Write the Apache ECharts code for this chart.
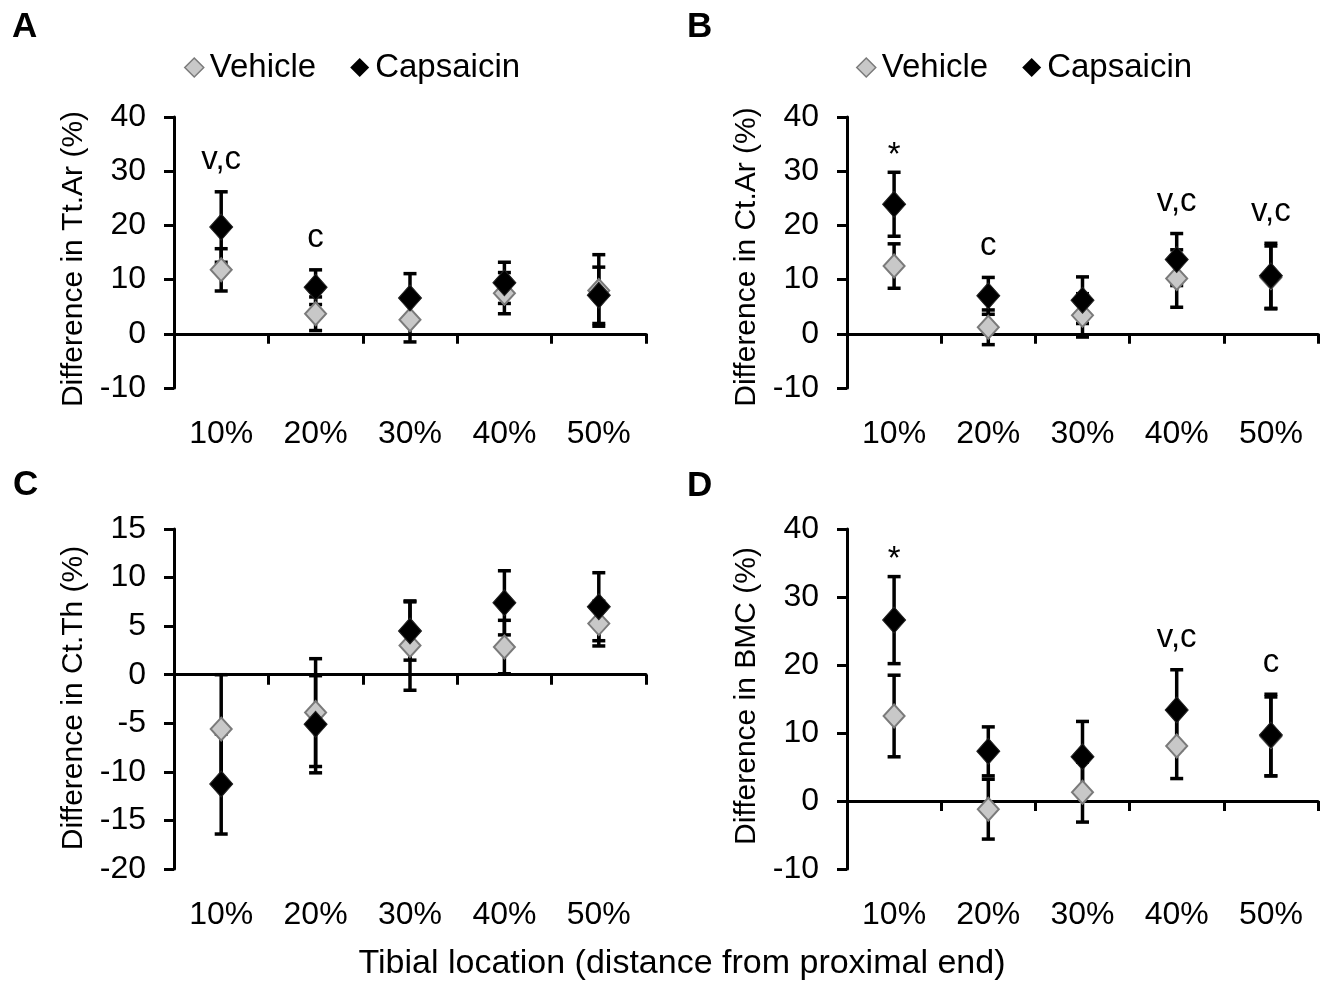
<!DOCTYPE html>
<html><head><meta charset="utf-8">
<script src="https://cdn.jsdelivr.net/npm/echarts@6/dist/echarts.min.js"></script>
<style>html,body{margin:0;padding:0;background:#fff}#c{width:1326px;height:982px}</style>
</head><body><div id="c"></div>
<script>
// ---- data ----
const categories = ['10%', '20%', '30%', '40%', '50%'];

// Panel A: Tt.Ar
const vehicleA = [11.8, 3.7, 2.6, 7.5, 8.0];
const vehicleErrA = [3.9, 3.1, 4.1, 3.8, 6.6];
const capsaicinA = [19.7, 8.6, 6.6, 9.4, 7.1];
const capsaicinErrA = [6.5, 3.2, 4.5, 3.8, 5.2];
const annotA = ['v,c', 'c', '', '', ''];

// Panel B: Ct.Ar
const vehicleB = [12.5, 1.2, 3.4, 10.2, 10.4];
const vehicleErrB = [4.1, 3.2, 4.0, 5.3, 5.8];
const capsaicinB = [23.9, 7.0, 6.2, 13.7, 10.7];
const capsaicinErrB = [5.9, 3.4, 4.3, 4.8, 6.0];
const annotB = ['*', 'c', '', 'v,c', 'v,c'];

// Panel C: Ct.Th
const vehicleC = [-5.6, -3.9, 3.0, 2.85, 5.26];
const vehicleErrC = [5.6, 5.55, 4.6, 2.75, 2.3];
const capsaicinC = [-11.25, -5.1, 4.5, 7.4, 7.0];
const capsaicinErrC = [5.15, 5.0, 3.0, 3.3, 3.5];
const annotC = ['', '', '', '', ''];

// Panel D: BMC
const vehicleD = [12.5, -1.2, 1.3, 8.1, 9.5];
const vehicleErrD = [6.0, 4.4, 4.4, 4.8, 5.8];
const capsaicinD = [26.6, 7.3, 6.5, 13.4, 9.7];
const capsaicinErrD = [6.4, 3.6, 5.2, 5.9, 6.0];
const annotD = ['*', '', '', 'v,c', 'c'];

const yTitles = ['Difference in Tt.Ar (%)', 'Difference in Ct.Ar (%)', 'Difference in Ct.Th (%)', 'Difference in BMC (%)'];
const panelLetters = ['A', 'B', 'C', 'D'];
const xTitle = 'Tibial location (distance from proximal end)';
const seriesNames = ['Vehicle', 'Capsaicin'];

// ---- layout / style ----
const FONT = '"Liberation Sans", Arial, Helvetica, sans-serif';
const VEH_FILL = '#c8c8c8', VEH_BORDER = '#7a7a7a', CAP_FILL = '#000000';

const panels = [
  {veh: vehicleA, vehErr: vehicleErrA, cap: capsaicinA, capErr: capsaicinErrA, ann: annotA,
   yMin: -10, yMax: 40, yInt: 10, grid: {left: 174, top: 117, width: 472, height: 271},
   titlePos: [74, 259], letterPos: [12, 27]},
  {veh: vehicleB, vehErr: vehicleErrB, cap: capsaicinB, capErr: capsaicinErrB, ann: annotB,
   yMin: -10, yMax: 40, yInt: 10, grid: {left: 847, top: 117, width: 471, height: 271},
   titlePos: [747, 257], letterPos: [687, 27]},
  {veh: vehicleC, vehErr: vehicleErrC, cap: capsaicinC, capErr: capsaicinErrC, ann: annotC,
   yMin: -20, yMax: 15, yInt: 5, grid: {left: 174, top: 529, width: 472, height: 340},
   titlePos: [74, 698], letterPos: [13, 485]},
  {veh: vehicleD, vehErr: vehicleErrD, cap: capsaicinD, capErr: capsaicinErrD, ann: annotD,
   yMin: -10, yMax: 40, yInt: 10, grid: {left: 847, top: 529, width: 471, height: 340},
   titlePos: [747, 696], letterPos: [687, 486]}
];

function renderErrorBar(params, api) {
  const x = api.value(0), lo = api.value(1), hi = api.value(2);
  const pLo = api.coord([x, lo]), pHi = api.coord([x, hi]);
  const hw = 6.5;
  const st = {stroke: '#000', lineWidth: 3.5};
  return {type: 'group', children: [
    {type: 'line', shape: {x1: pLo[0], y1: pLo[1], x2: pHi[0], y2: pHi[1]}, style: st},
    {type: 'line', shape: {x1: pLo[0] - hw, y1: pLo[1], x2: pLo[0] + hw, y2: pLo[1]}, style: st},
    {type: 'line', shape: {x1: pHi[0] - hw, y1: pHi[1], x2: pHi[0] + hw, y2: pHi[1]}, style: st}
  ]};
}

const grid = [], xAxis = [], yAxis = [], series = [], graphic = [];
const axisLineStyle = {color: '#000', width: 3};

panels.forEach((p, i) => {
  grid.push(Object.assign({}, p.grid));
  // label-only category axis at bottom
  xAxis.push({type: 'category', gridIndex: i, data: categories, position: 'bottom',
    axisLine: {show: false, onZero: false}, axisTick: {show: false}, splitLine: {show: false},
    axisLabel: {fontSize: 32, color: '#000', fontFamily: FONT, margin: 30}});
  // line-only category axis on zero
  xAxis.push({type: 'category', gridIndex: i, data: categories, position: 'bottom',
    axisLine: {show: true, onZero: true, lineStyle: axisLineStyle},
    axisTick: {show: true, length: 10, lineStyle: axisLineStyle},
    axisLabel: {show: false}, splitLine: {show: false}});
  yAxis.push({type: 'value', gridIndex: i, min: p.yMin, max: p.yMax, interval: p.yInt,
    axisLine: {show: true, lineStyle: axisLineStyle},
    axisTick: {show: true, length: 10, lineStyle: axisLineStyle},
    splitLine: {show: false},
    axisLabel: {fontSize: 32, color: '#000', fontFamily: FONT, margin: 28}});

  const errData = [];
  categories.forEach((c, k) => {
    errData.push([k, p.veh[k] - p.vehErr[k], p.veh[k] + p.vehErr[k]]);
    errData.push([k, p.cap[k] - p.capErr[k], p.cap[k] + p.capErr[k]]);
  });
  series.push({type: 'custom', xAxisIndex: 2 * i, yAxisIndex: i, renderItem: renderErrorBar,
    data: errData, z: 1, silent: true, encode: {x: 0, y: [1, 2]}});
  series.push({name: 'Vehicle', type: 'scatter', xAxisIndex: 2 * i, yAxisIndex: i,
    data: p.veh.map((v, k) => [k, v]), symbol: 'diamond', symbolSize: [21, 23], z: 2,
    itemStyle: {color: VEH_FILL, borderColor: VEH_BORDER, borderWidth: 2, opacity: 1}});
  series.push({name: 'Capsaicin', type: 'scatter', xAxisIndex: 2 * i, yAxisIndex: i,
    data: p.cap.map((v, k) => [k, v]), symbol: 'diamond', symbolSize: [23, 26], z: 3,
    itemStyle: {color: CAP_FILL, borderColor: '#222', borderWidth: 1, opacity: 1}});
  // significance annotations placed above the highest error bar
  const annData = [];
  categories.forEach((c, k) => {
    if (!p.ann[k]) return;
    const top = Math.max(p.veh[k] + p.vehErr[k], p.cap[k] + p.capErr[k]);
    annData.push({value: [k, top], label: {formatter: p.ann[k], distance: p.ann[k] === '*' ? 0 : 15}});
  });
  series.push({type: 'scatter', xAxisIndex: 2 * i, yAxisIndex: i, data: annData,
    symbolSize: 0, silent: true, z: 4, itemStyle: {opacity: 1, color: '#000'},
    label: {show: true, position: 'top', color: '#000', fontSize: 33, lineHeight: 33, fontFamily: FONT, opacity: 1}});

  graphic.push({type: 'text', x: p.titlePos[0], y: p.titlePos[1], rotation: Math.PI / 2,
    style: {text: yTitles[i], fontSize: 30, fontFamily: FONT, fill: '#000', align: 'center', verticalAlign: 'middle'}});
  graphic.push({type: 'text', x: p.letterPos[0], y: p.letterPos[1],
    style: {text: panelLetters[i], fontSize: 35, fontWeight: 'bold', fontFamily: FONT, fill: '#000', align: 'left', verticalAlign: 'middle'}});
});

graphic.push({type: 'text', x: 682, y: 964,
  style: {text: xTitle, fontSize: 34, fontFamily: FONT, fill: '#000', align: 'center', verticalAlign: 'middle'}});

const legendData = [
  {name: seriesNames[0], icon: 'diamond', itemStyle: {color: VEH_FILL, borderColor: VEH_BORDER, borderWidth: 1.5}},
  {name: seriesNames[1], icon: 'diamond', itemStyle: {color: CAP_FILL, borderColor: CAP_FILL, borderWidth: 0}}
];
const legendBase = {top: 46, itemWidth: 19, itemHeight: 19, itemGap: 34, data: legendData, selectedMode: false,
  textStyle: {fontSize: 33, color: '#000', fontFamily: FONT, padding: [0, 0, 0, 1]}};

const option = {
  backgroundColor: '#fff',
  animation: false,
  grid: grid, xAxis: xAxis, yAxis: yAxis, series: series, graphic: graphic,
  legend: [Object.assign({left: 179}, legendBase), Object.assign({left: 851}, legendBase)]
};
const chart = echarts.init(document.getElementById('c'), null, {renderer: 'canvas'});
chart.setOption(option);
</script></body></html>
